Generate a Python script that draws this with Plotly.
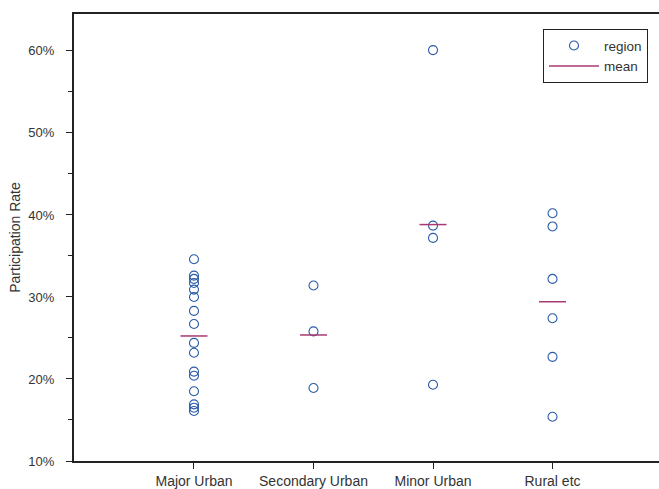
import plotly.graph_objects as go

# Participation rate (%) by area type, one value per region
categories = ["Major Urban", "Secondary Urban", "Minor Urban", "Rural etc"]
major_urban = [34.6, 32.6, 32.2, 31.7, 30.9, 30.0, 28.3, 26.7, 24.4, 23.2, 20.9, 20.4, 18.5, 16.9, 16.5, 16.1]
secondary_urban = [31.4, 25.8, 18.9]
minor_urban = [60.1, 38.7, 37.2, 19.3]
rural_etc = [40.2, 38.6, 32.2, 27.4, 22.7, 15.4]

groups = [major_urban, secondary_urban, minor_urban, rural_etc]

POINT_COLOR = "#2a5ba6"
MEAN_COLOR = "#a83a72"
AXIS_COLOR = "#222222"
TEXT_COLOR = "#333333"
FONT = "Liberation Sans, Arial, sans-serif"
HALF_WIDTH = 0.113  # half length of a mean bar, in category units

# scatter of individual regions
px, py = [], []
for i, vals in enumerate(groups):
    px += [i] * len(vals)
    py += vals

# horizontal mean bars
mx, my = [], []
for i, vals in enumerate(groups):
    m = sum(vals) / len(vals)
    mx += [i - HALF_WIDTH, i + HALF_WIDTH, None]
    my += [m, m, None]

fig = go.Figure()
fig.add_trace(go.Scatter(
    x=px, y=py, mode="markers", name="region",
    marker=dict(symbol="circle-open", size=9, color=POINT_COLOR,
                line=dict(width=1.1, color=POINT_COLOR)),
))
fig.add_trace(go.Scatter(
    x=mx, y=my, mode="lines", name="mean",
    line=dict(color=MEAN_COLOR, width=1.5),
))

fig.update_layout(
    width=659, height=489,
    margin=dict(l=74, r=0, t=14, b=28),
    paper_bgcolor="white", plot_bgcolor="white",
    font=dict(family=FONT, size=14, color=TEXT_COLOR),
    showlegend=True,
    legend=dict(
        x=0.8017, y=0.966, xanchor="left", yanchor="top",
        bordercolor="#222222", borderwidth=1, bgcolor="white",
        font=dict(size=13.5, color=TEXT_COLOR),
        itemwidth=50, tracegroupgap=0,
    ),
    xaxis=dict(
        range=[-1.004, 3.891],
        tickmode="array", tickvals=list(range(len(categories))), ticktext=categories,
        showgrid=False, zeroline=False,
        showline=True, linecolor=AXIS_COLOR, linewidth=2, mirror=True,
        ticks="outside", ticklen=6, tickwidth=1, tickcolor=AXIS_COLOR,
        tickfont=dict(size=14),
        automargin=False,
    ),
    yaxis=dict(
        range=[10, 64.5],
        tick0=10, dtick=10, ticksuffix="%",
        showgrid=False, zeroline=False,
        showline=True, linecolor=AXIS_COLOR, linewidth=2,
        ticks="outside", ticklen=6, tickwidth=1, tickcolor=AXIS_COLOR,
        minor=dict(dtick=5, ticks="outside", ticklen=4, tickwidth=1, tickcolor=AXIS_COLOR, showgrid=False),
        ticklabelstandoff=9,
        tickfont=dict(size=13),
        title=dict(text="Participation Rate", standoff=4, font=dict(size=14, color=TEXT_COLOR)),
        automargin=False,
    ),
)

fig.write_html("out.html")
